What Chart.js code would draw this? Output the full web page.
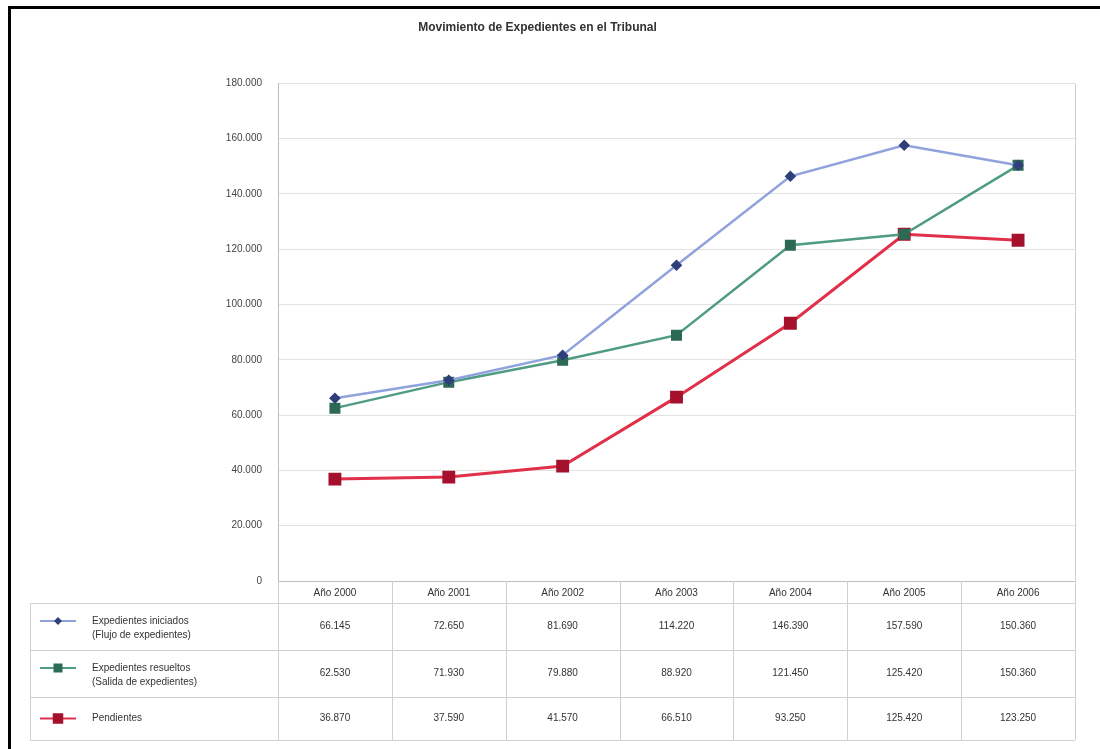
<!DOCTYPE html>
<html>
<head>
<meta charset="utf-8">
<script src="https://cdn.jsdelivr.net/npm/chart.js@4.4.1/dist/chart.umd.min.js"></script>
<style>
  html,body{margin:0;padding:0;background:#fff;}
  #wrap{position:absolute;left:0;top:0;width:1100px;height:749px;}
  #frame{position:absolute;left:8px;top:6px;width:1100px;height:760px;border-left:3px solid #000;border-top:3px solid #000;box-sizing:border-box;pointer-events:none;}
</style>
</head>
<body>
<div id="wrap">
  <canvas id="c" width="1100" height="749"></canvas>
  <div id="frame"></div>
</div>
<script>
const years = ['Año 2000','Año 2001','Año 2002','Año 2003','Año 2004','Año 2005','Año 2006'];
const ingresados = [66145, 72650, 81690, 114220, 146390, 157590, 150360];
const resueltos = [62530, 71930, 79880, 88920, 121450, 125420, 150360];
const pendientes = [36870, 37590, 41570, 66510, 93250, 125420, 123250];
const seriesNames = [
  ['Expedientes iniciados','(Flujo de expedientes)'],
  ['Expedientes resueltos','(Salida de expedientes)'],
  ['Pendientes']
];
const yTicks = [0, 20000, 40000, 60000, 80000, 100000, 120000, 140000, 160000, 180000];

const fmt = v => v.toLocaleString('de-DE');
const FONT = '"Liberation Sans", Arial, sans-serif';

// data table under the plot, columns follow the x scale
const tablePlugin = {
  id:'tabla',
  afterDraw(chart){
    const ctx = chart.ctx, ca = chart.chartArea, x = chart.scales.x;
    const rows = [ingresados, resueltos, pendientes];
    const colW = (ca.right-ca.left)/years.length;
    const top = ca.bottom, hdrB = 603, rowB = [650, 697, 740];
    ctx.save();
    ctx.strokeStyle = '#cfcfcf'; ctx.lineWidth = 1;
    // plot right edge
    ctx.beginPath(); ctx.moveTo(ca.right+0.5, ca.top); ctx.lineTo(ca.right+0.5, ca.bottom); ctx.stroke();
    // vertical lines
    for(let i=0;i<=years.length;i++){
      const px = Math.round(ca.left + i*colW)+0.5;
      ctx.beginPath(); ctx.moveTo(px, top); ctx.lineTo(px, rowB[2]); ctx.stroke();
    }
    ctx.beginPath(); ctx.moveTo(30.5, hdrB); ctx.lineTo(30.5, rowB[2]); ctx.stroke();
    // horizontal lines
    [hdrB].concat(rowB).forEach(y=>{
      ctx.beginPath(); ctx.moveTo(30, y+0.5); ctx.lineTo(ca.right, y+0.5); ctx.stroke();
    });
    ctx.fillStyle = '#333'; ctx.font = '10px '+FONT;
    ctx.textAlign = 'center'; ctx.textBaseline = 'middle';
    years.forEach((yr,i)=>{
      const cx = x.getPixelForValue(i);
      ctx.fillText(yr, cx, (top+hdrB)/2+1);
      rows.forEach((r,j)=>{
        const y0 = j===0?hdrB:rowB[j-1], y1 = rowB[j];
        ctx.fillText(fmt(r[i]), cx, (y0+y1)/2);
      });
    });
    // legend keys
    ctx.textAlign = 'left';
    chart.data.datasets.forEach((ds,j)=>{
      const y0 = j===0?hdrB:rowB[j-1], y1 = rowB[j];
      const names = seriesNames[j];
      const cy = j===2 ? (y0+y1)/2 : y0+18;
      ctx.strokeStyle = ds.borderColor; ctx.lineWidth = 2;
      ctx.beginPath(); ctx.moveTo(40, cy); ctx.lineTo(76, cy); ctx.stroke();
      ctx.fillStyle = ds.pointBackgroundColor;
      const s = ds.pointRadius;
      if(ds.pointStyle==='rectRot'){
        ctx.beginPath(); ctx.moveTo(58, cy-s); ctx.lineTo(58+s, cy); ctx.lineTo(58, cy+s); ctx.lineTo(58-s, cy); ctx.closePath(); ctx.fill();
      } else {
        ctx.fillRect(58-s*0.75, cy-s*0.75, s*1.5, s*1.5);
      }
      ctx.fillStyle = '#333';
      names.forEach((n,k)=> ctx.fillText(n, 92, cy + k*14));
    });
    ctx.restore();
  }
};

new Chart(document.getElementById('c'), {
  type:'line',
  data:{
    labels: years,
    datasets:[
      {label:seriesNames[0].join(' '), data:ingresados, borderColor:'#8fa2dc', borderWidth:2.5,
       pointStyle:'rectRot', pointRadius:4, pointBackgroundColor:'#2e3f7a', pointBorderColor:'#2e3f7a'},
      {label:seriesNames[1].join(' '), data:resueltos, borderColor:'#4f9c82', borderWidth:2.5,
       pointStyle:'rect', pointRadius:6, pointBackgroundColor:'#2d6a54', pointBorderColor:'#2d6a54'},
      {label:seriesNames[2].join(' '), data:pendientes, borderColor:'#e0304a', borderWidth:3,
       pointStyle:'rect', pointRadius:7, pointBackgroundColor:'#a5112c', pointBorderColor:'#a5112c'}
    ]
  },
  options:{
    responsive:false, animation:false,
    layout:{padding:{left:0, right:25, top:0, bottom:168}},
    plugins:{
      legend:{display:false}, tooltip:{enabled:false},
      title:{display:true, text:'Movimiento de Expedientes en el Tribunal', color:'#333',
        font:{family:FONT, size:12, weight:'bold'}, padding:{top:20, bottom:49}}
    },
    scales:{
      x:{offset:true, grid:{display:false, drawTicks:false}, border:{color:'#bdbdbd'},
         ticks:{display:false}},
      y:{min:0, max:180000, afterFit(s){ s.width = 278; },
         afterBuildTicks(s){ s.ticks = yTicks.map(v=>({value:v})); },
         grid:{color:'#e2e2e2', drawTicks:false}, border:{color:'#bdbdbd'},
         ticks:{color:'#444', padding:16, font:{family:FONT, size:10}, callback:v=>fmt(v)}}
    }
  },
  plugins:[tablePlugin]
});
</script>
</body>
</html>
